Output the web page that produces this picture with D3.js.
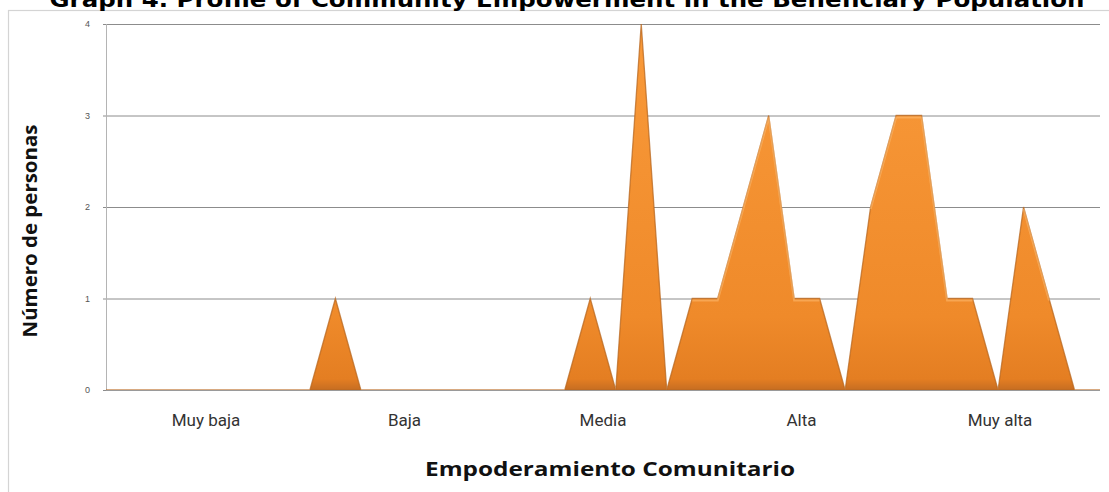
<!DOCTYPE html>
<html>
<head>
<meta charset="utf-8">
<script src="https://cdn.jsdelivr.net/npm/d3@7"></script>
<style>
  html, body { margin: 0; padding: 0; background: #ffffff; }
  svg { display: block; }
</style>
</head>
<body>
<svg id="chart" width="1109" height="492"></svg>
<script>
// ---- data ----
const titleText = "Graph 4. Profile of Community Empowerment in the Beneficiary Population";
const yTitle = "Número de personas";
const xTitle = "Empoderamiento Comunitario";
const categories = ["Muy baja", "Baja", "Media", "Alta", "Muy alta"];
const yTicks = [0, 1, 2, 3, 4];
const counts = [0,0,0,0,0,0,0,0,0, 1, 0,0,0,0,0,0,0,0,0,
                1,0,4,0,1,1,2,3,1,1,0,2,3,3,1,1,0,2,1,0,0];

// ---- layout ----
const W = 1109, H = 492;
const plot = { left: 106, right: 1100, top: 24, bottom: 390 };
const svg = d3.select("#chart");

const defs = svg.append("defs");
const grad = defs.append("linearGradient").attr("id", "fillGrad")
  .attr("x1", 0).attr("y1", 0).attr("x2", 0).attr("y2", 1)
  .attr("gradientUnits", "userSpaceOnUse")
  .attr("y1", plot.top).attr("y2", plot.bottom);
grad.append("stop").attr("offset", "0%").attr("stop-color", "#f99a3a");
grad.append("stop").attr("offset", "80%").attr("stop-color", "#ef8a2a");
grad.append("stop").attr("offset", "97%").attr("stop-color", "#e47e22");
grad.append("stop").attr("offset", "100%").attr("stop-color", "#c66d22");

// chart-area frame
svg.append("rect").attr("x", 8.5).attr("y", 10.5).attr("width", W + 20).attr("height", H + 20)
  .attr("fill", "#ffffff").attr("stroke", "#d4d4d4").attr("stroke-width", 1.2);

// title (partially clipped at top)
svg.append("text").text(titleText)
  .attr("x", 567).attr("y", 7)
  .attr("text-anchor", "middle")
  .attr("font-family", "DejaVu Sans, Verdana, sans-serif")
  .attr("font-weight", "bold").attr("font-size", 21)
  .attr("textLength", 1035).attr("lengthAdjust", "spacingAndGlyphs")
  .attr("fill", "#000");

// scales
const x = d3.scalePoint().domain(d3.range(counts.length)).range([plot.left, plot.right]);
const y = d3.scaleLinear().domain([0, 4]).range([plot.bottom, plot.top]);
const xc = d3.scalePoint().domain(categories).range([206, 1000]);

// gridlines + y axis
const yAxis = d3.axisLeft(y).tickValues(yTicks).tickSize(-(plot.right - plot.left + 3)).tickPadding(10)
  .tickFormat(d3.format("d"));
const gy = svg.append("g").attr("transform", `translate(${plot.left - 3},0)`).call(yAxis);
gy.select(".domain").remove();
gy.selectAll(".tick line").attr("stroke", "#8c8c8c").attr("stroke-width", 1);
gy.selectAll(".tick text").attr("font-family", "Liberation Sans, Arial, sans-serif")
  .attr("font-size", 9).attr("fill", "#555").attr("dx", -3);

// vertical axis line
svg.append("line").attr("x1", plot.left + 0.5).attr("x2", plot.left + 0.5)
  .attr("y1", plot.top).attr("y2", plot.bottom).attr("stroke", "#b4b4b4");

// area
const area = d3.area().x((d, i) => x(i)).y0(y(0)).y1(d => y(d));
svg.append("path").datum(counts).attr("d", area)
  .attr("fill", "url(#fillGrad)")
  .attr("stroke", "#b8671f").attr("stroke-width", 1.3).attr("stroke-opacity", 0.75)
  .attr("stroke-linejoin", "miter");

// highlight flat tops
const line = d3.line().x((d, i) => x(i)).y(d => y(d)).defined(d => d > 0);
svg.append("path").datum(counts).attr("d", line)
  .attr("fill", "none").attr("stroke", "#ffc27a").attr("stroke-width", 2)
  .attr("stroke-opacity", 0.5).attr("transform", "translate(0,2)");

// baseline
svg.append("line").attr("x1", plot.left).attr("x2", plot.right)
  .attr("y1", plot.bottom + 0.5).attr("y2", plot.bottom + 0.5).attr("stroke", "#9a9a9a");

// category labels
svg.append("g").selectAll("text").data(categories).join("text")
  .attr("x", d => xc(d)).attr("y", 426)
  .attr("text-anchor", "middle")
  .attr("font-family", "Roboto, Liberation Sans, sans-serif")
  .attr("font-size", 17).attr("fill", "#333")
  .text(d => d);

// axis titles
svg.append("text").text(xTitle)
  .attr("x", 610).attr("y", 476).attr("text-anchor", "middle")
  .attr("font-family", "Open Sans, Liberation Sans, sans-serif")
  .attr("font-weight", "bold").attr("font-size", 20)
  .attr("textLength", 370).attr("lengthAdjust", "spacingAndGlyphs")
  .attr("fill", "#111");

svg.append("text").text(yTitle)
  .attr("transform", "translate(37,231) rotate(-90)")
  .attr("text-anchor", "middle")
  .attr("font-family", "Open Sans, Liberation Sans, sans-serif")
  .attr("font-weight", "bold").attr("font-size", 20)
  .attr("textLength", 213).attr("lengthAdjust", "spacingAndGlyphs")
  .attr("fill", "#111");
</script>
</body>
</html>
